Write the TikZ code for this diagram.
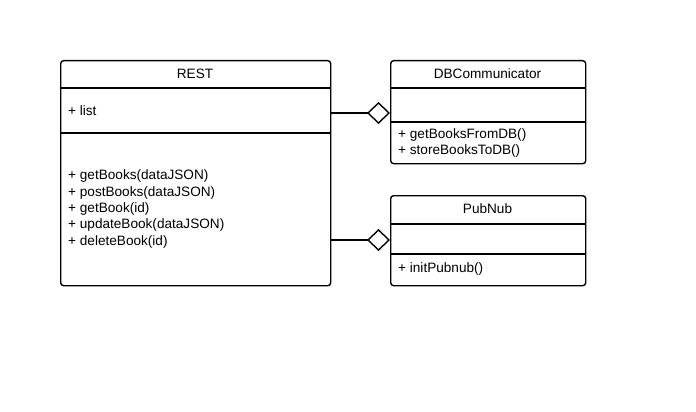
\documentclass[tikz,border=0pt]{standalone}
\usepackage{fontspec}
\setmainfont{Liberation Sans}
\usetikzlibrary{arrows.meta}
\begin{document}
\begin{tikzpicture}[x=1pt,y=-1pt,
  umlbox/.style={draw, line width=1.4pt, rounded corners=3pt, anchor=north west, inner sep=0pt},
  divider/.style={line width=1.4pt},
  title/.style={font=\fontsize{13.6}{16.3}\selectfont, inner sep=0pt},
  members/.style={font=\fontsize{13.6}{16.3}\selectfont, align=left, anchor=west, inner sep=0pt},
  agg/.style={line width=1.4pt, -{Diamond[open,length=23pt,width=22pt,line width=1.4pt]}}]
\useasboundingbox (0,0) rectangle (696,412);
% REST
\node[umlbox, minimum width=270pt, minimum height=225pt] (rest) at (60,60) {};
\draw[divider] (60,88) -- (330,88);
\draw[divider] (60,133) -- (330,133);
\node[title] (resttitle) at (195,73.5) {REST};
\node[members] (restattr) at (68,111) {+ list};
\node[members] (restops) at (68,209) {+ getBooks(dataJSON)\\+ postBooks(dataJSON)\\+ getBook(id)\\+ updateBook(dataJSON)\\+ deleteBook(id)};
% DBCommunicator
\node[umlbox, minimum width=195pt, minimum height=103pt] (db) at (390,60) {};
\draw[divider] (390,88) -- (585,88);
\draw[divider] (390,122) -- (585,122);
\node[title] (dbtitle) at (487.5,73.5) {DBCommunicator};
\node[members] (dbops) at (398,143) {+ getBooksFromDB()\\+ storeBooksToDB()};
% PubNub
\node[umlbox, minimum width=195pt, minimum height=90pt] (pn) at (390,195) {};
\draw[divider] (390,224) -- (585,224);
\draw[divider] (390,254) -- (585,254);
\node[title] (pntitle) at (487.5,209) {PubNub};
\node[members] (pnops) at (398,269) {+ initPubnub()};
% connectors
\coordinate (a1) at (rest.east |- 0,113);
\coordinate (b1) at (db.west |- 0,113);
\coordinate (a2) at (rest.east |- 0,240);
\coordinate (b2) at (pn.west |- 0,240);
\draw[agg] (a1) -- (b1);
\draw[agg] (a2) -- (b2);
\end{tikzpicture}
\end{document}
